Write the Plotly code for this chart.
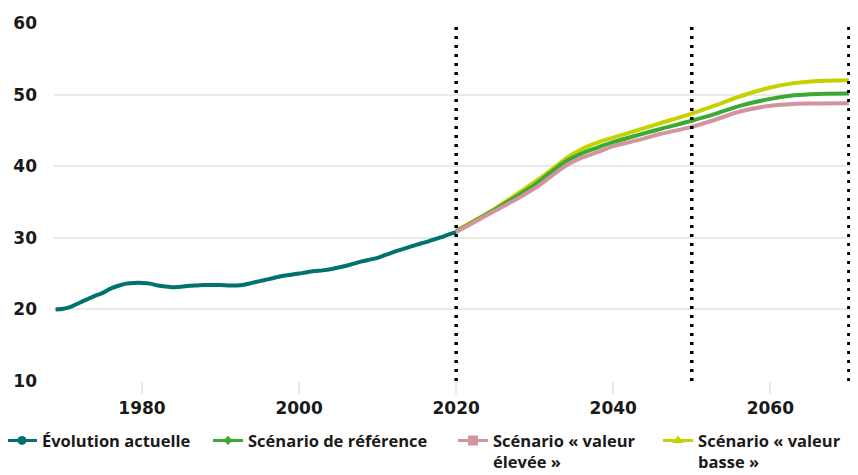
import plotly.graph_objects as go

# Historical series
hist_years = list(range(1969, 2021))
hist_vals = [20.0, 20.1, 20.4, 20.9, 21.4, 21.9, 22.3, 22.9, 23.3, 23.6,
             23.7, 23.7, 23.6, 23.35, 23.2, 23.1, 23.15, 23.3, 23.35, 23.4,
             23.4, 23.4, 23.35, 23.35, 23.45, 23.7, 23.95, 24.2, 24.45, 24.7,
             24.85, 25.0, 25.2, 25.35, 25.45, 25.6, 25.85, 26.1, 26.4, 26.7,
             26.95, 27.2, 27.6, 28.0, 28.35, 28.7, 29.05, 29.35, 29.7, 30.05,
             30.45, 30.8]

proj_years = [2020, 2022, 2025, 2028, 2030, 2032, 2034, 2036, 2038, 2040,
              2043, 2046, 2050, 2053, 2056, 2060, 2063, 2066, 2070]
ref_vals = [30.9, 32.1, 34.0, 36.0, 37.4, 39.1, 40.7, 41.8, 42.6, 43.35,
            44.3, 45.2, 46.35, 47.3, 48.4, 49.4, 49.9, 50.1, 50.15]
high_vals = [30.8, 32.0, 33.8, 35.6, 36.9, 38.5, 40.1, 41.2, 41.95, 42.8,
             43.6, 44.5, 45.5, 46.5, 47.6, 48.45, 48.7, 48.75, 48.8]
low_vals = [31.0, 32.2, 34.1, 36.3, 37.8, 39.4, 41.1, 42.4, 43.3, 44.0,
            45.0, 46.0, 47.35, 48.5, 49.7, 51.0, 51.6, 51.9, 52.0]

vlines = [2020, 2050, 2070]

names = ["Évolution actuelle", "Scénario de référence",
         "Scénario « valeur<br>élevée »", "Scénario « valeur<br>basse »"]
colors = ["#00736e", "#3aaa35", "#d3939f", "#c5d200"]
symbols = ["circle", "diamond", "square", "triangle-up"]
msizes = [9, 7, 10, 10]
legend_ids = ["legend", "legend2", "legend3", "legend4"]
legend_x = [-0.0652, 0.193, 0.5, 0.757]

fig = go.Figure()

series = [(hist_years, hist_vals), (proj_years, ref_vals),
          (proj_years, high_vals), (proj_years, low_vals)]
order = [0, 3, 1, 2]
for i in order:
    xs, ys = series[i]
    fig.add_trace(go.Scatter(x=xs, y=ys, mode="lines",
                             line=dict(color=colors[i], width=4, shape="spline", smoothing=0.8),
                             showlegend=False, hoverinfo="skip"))

for i in range(4):
    fig.add_trace(go.Scatter(x=[None], y=[None], mode="lines+markers", name=names[i],
                             legend=legend_ids[i],
                             line=dict(color=colors[i], width=3),
                             marker=dict(color=colors[i], symbol=symbols[i], size=msizes[i])))

for v in vlines:
    fig.add_shape(type="line", x0=v, x1=v, y0=0, y1=1, xref="x", yref="paper",
                  line=dict(color="black", width=3.5, dash="3px,6px"), layer="above")

leg_font = dict(family="Open Sans", size=16.5, weight="bold", color="#1a1a1a")
layout_legends = {}
for lid, lx in zip(legend_ids, legend_x):
    layout_legends[lid] = dict(orientation="h", x=lx, xanchor="left", xref="paper",
                               y=0.111, yanchor="top", yref="container",
                               font=leg_font, valign="top", bgcolor="rgba(0,0,0,0)")

# page body has an 8px default margin, so the figure is sized to fit the window
fig.update_layout(
    width=850, height=467,
    margin=dict(l=46, r=6, t=15, b=94, autoexpand=False),
    paper_bgcolor="white", plot_bgcolor="white",
    font=dict(family="DejaVu Sans", color="#1a1a1a"),
    showlegend=True,
    xaxis=dict(range=[1968.8, 2070.4], tickvals=[1980, 2000, 2020, 2040, 2060],
               showgrid=False, zeroline=False, showline=False, automargin=False,
               ticks="outside", ticklen=12, tickcolor="#ebeae3", tickwidth=1.5,
               tickfont=dict(family="DejaVu Sans", size=17, weight="bold", color="#1a1a1a")),
    yaxis=dict(range=[10, 60], tickvals=[10, 20, 30, 40, 50, 60],
               showgrid=True, gridcolor="#ebeae3", gridwidth=1.5, zeroline=False,
               showline=False, ticks="", ticklabelstandoff=16, automargin=False,
               tickfont=dict(family="DejaVu Sans", size=17, weight="bold", color="#1a1a1a")),
    **layout_legends,
)

fig.write_html("out.html")
